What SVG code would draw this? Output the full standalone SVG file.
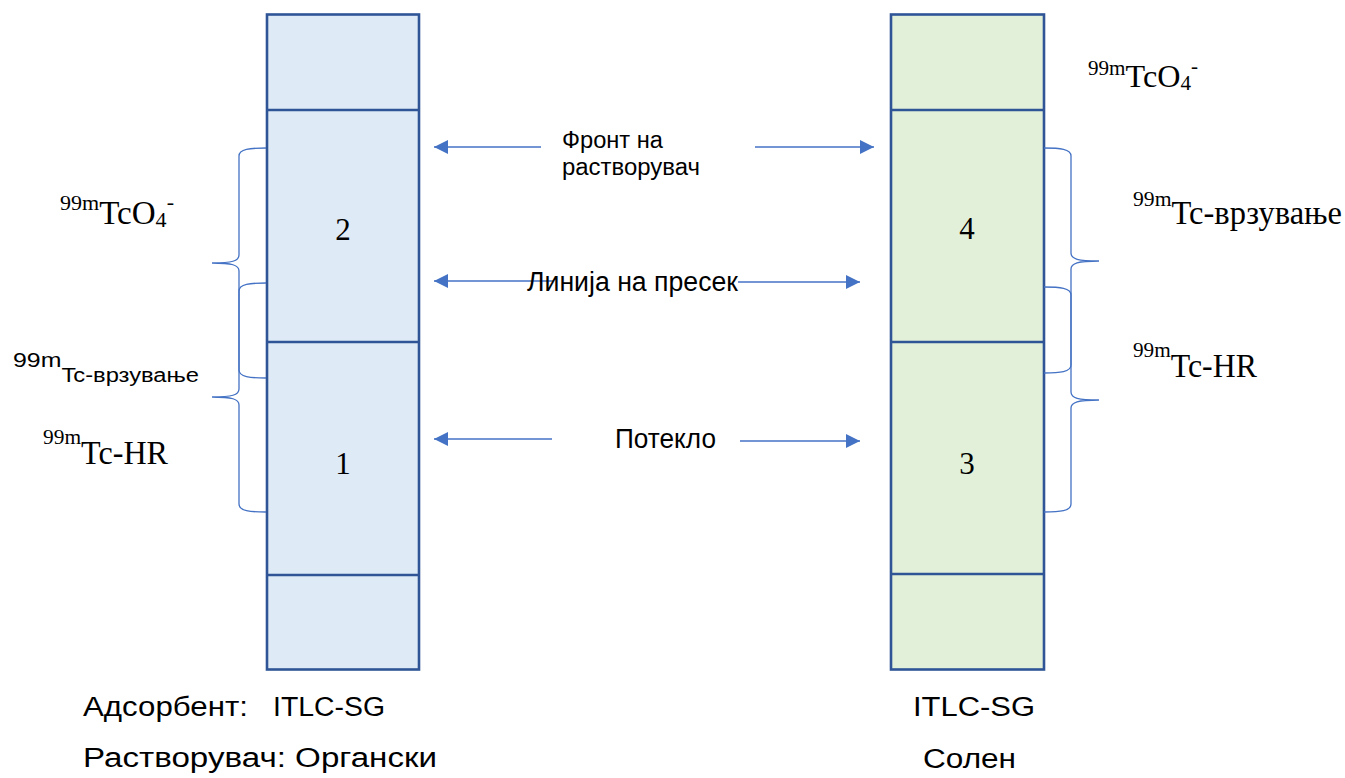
<svg xmlns="http://www.w3.org/2000/svg" width="1345" height="778" viewBox="0 0 1345 778">
  <defs>
    <marker id="head" markerUnits="userSpaceOnUse" markerWidth="16" markerHeight="16" refX="14" refY="7" orient="auto">
      <path d="M0,0 L14,7 L0,14 Z" fill="#4472C4"/>
    </marker>
    <style>
      .strip { stroke: #2F5597; stroke-width: 2.6; }
      .left { fill: #DEEBF7; }
      .right { fill: #E2F0D9; }
      .div { stroke: #2F5597; stroke-width: 2.6; }
      .arrow { stroke: #4472C4; stroke-width: 1.6; fill: none; marker-end: url(#head); }
      .brace { stroke: #4472C4; stroke-width: 1.3; fill: none; }
      .sans { font-family: "Liberation Sans", Arial, sans-serif; fill: #000; }
      .serif { font-family: "Liberation Serif", "Times New Roman", serif; fill: #000; }
    </style>
  </defs>
  <rect width="1345" height="778" fill="#FFFFFF"/>

  <!-- ITLC-SG strip, organic solvent -->
  <g id="strip-organic">
    <rect class="strip left" x="267" y="14.5" width="152" height="655"/>
    <line class="div" x1="267" y1="110" x2="419" y2="110"/>
    <line class="div" x1="267" y1="342" x2="419" y2="342"/>
    <line class="div" x1="267" y1="575" x2="419" y2="575"/>
    <text class="serif" x="343" y="240" font-size="31" text-anchor="middle">2</text>
    <text class="serif" x="343" y="474" font-size="31" text-anchor="middle">1</text>
  </g>

  <!-- ITLC-SG strip, saline -->
  <g id="strip-saline">
    <rect class="strip right" x="891" y="14.5" width="153" height="655"/>
    <line class="div" x1="891" y1="110" x2="1044" y2="110"/>
    <line class="div" x1="891" y1="342" x2="1044" y2="342"/>
    <line class="div" x1="891" y1="574" x2="1044" y2="574"/>
    <text class="serif" x="967" y="239" font-size="31" text-anchor="middle">4</text>
    <text class="serif" x="967" y="474" font-size="31" text-anchor="middle">3</text>
  </g>

  <!-- connectors: arrows and braces -->
  <g id="connectors">
    <line class="arrow" x1="541" y1="147" x2="434" y2="147"/>
    <line class="arrow" x1="755" y1="147" x2="874" y2="147"/>
    <line class="arrow" x1="553" y1="281" x2="434" y2="281"/>
    <line class="arrow" x1="738" y1="282" x2="860" y2="282"/>
    <line class="arrow" x1="552" y1="439" x2="434" y2="439"/>
    <line class="arrow" x1="740" y1="441" x2="860" y2="441"/>

    <path class="brace" d="M266,148 C250,148 239,149 239,156 L239,255 C239,261 232,263 212,263 C232,263 239,265 239,271 L239,370 C239,377 250,378 266,378"/>
    <path class="brace" d="M266,283 C250,283 239,284 239,291 L239,389 C239,395 232,397 212,397 C232,397 239,399 239,405 L239,504 C239,511 250,512 266,512"/>
    <path class="brace" d="M1044,148 C1060,148 1071,149 1071,156 L1071,253 C1071,259 1078,261 1099,261 C1078,261 1071,263 1071,269 L1071,365 C1071,372 1060,373 1044,373"/>
    <path class="brace" d="M1044,287 C1060,287 1071,288 1071,295 L1071,392 C1071,398 1078,400 1099,400 C1078,400 1071,402 1071,408 L1071,504 C1071,511 1060,512 1044,512"/>
  </g>

  <!-- level labels between strips -->
  <g id="label-front">
    <text class="sans" x="562" y="148" font-size="23" textLength="101" lengthAdjust="spacingAndGlyphs">Фронт на</text>
    <text class="sans" x="562" y="175" font-size="23" textLength="138" lengthAdjust="spacingAndGlyphs">растворувач</text>
  </g>
  <g id="label-cut">
    <text class="sans" x="527" y="291" font-size="27" textLength="211" lengthAdjust="spacingAndGlyphs">Линија на пресек</text>
  </g>
  <g id="label-origin">
    <text class="sans" x="615" y="448" font-size="27" textLength="101" lengthAdjust="spacingAndGlyphs">Потекло</text>
  </g>

  <!-- species, organic solvent -->
  <g id="species-organic">
    <text class="serif" x="60" y="224" font-size="33" textLength="114" lengthAdjust="spacingAndGlyphs"><tspan font-size="22" dy="-14">99m</tspan><tspan dy="14">TcO</tspan><tspan font-size="22" dy="3">4</tspan><tspan font-size="22" dy="-18">-</tspan></text>
    <text class="sans" x="13" y="367" font-size="21" textLength="186" lengthAdjust="spacingAndGlyphs">99m<tspan font-size="20" dy="15">Tc-врзување</tspan></text>
    <text class="serif" x="43" y="464" font-size="33" textLength="125" lengthAdjust="spacingAndGlyphs"><tspan font-size="22" dy="-20">99m</tspan><tspan dy="20">Tc-HR</tspan></text>
  </g>

  <!-- species, saline -->
  <g id="species-saline">
    <text class="serif" x="1088" y="87" font-size="32" textLength="110" lengthAdjust="spacingAndGlyphs"><tspan font-size="21" dy="-12">99m</tspan><tspan dy="12">TcO</tspan><tspan font-size="21" dy="3">4</tspan><tspan font-size="21" dy="-17">-</tspan></text>
    <text class="serif" x="1133" y="224" font-size="33" textLength="209" lengthAdjust="spacingAndGlyphs"><tspan font-size="22" dy="-18">99m</tspan><tspan dy="18">Tc-врзување</tspan></text>
    <text class="serif" x="1133" y="377" font-size="33" textLength="124" lengthAdjust="spacingAndGlyphs"><tspan font-size="22" dy="-20">99m</tspan><tspan dy="20">Tc-HR</tspan></text>
  </g>

  <!-- captions -->
  <g id="caption-organic">
    <text class="sans" x="83" y="716" font-size="27" textLength="165" lengthAdjust="spacingAndGlyphs">Адсорбент:</text>
    <text class="sans" x="273" y="716" font-size="27" textLength="112" lengthAdjust="spacingAndGlyphs">ITLC-SG</text>
    <text class="sans" x="83" y="767" font-size="27" textLength="354" lengthAdjust="spacingAndGlyphs">Растворувач: Органски</text>
  </g>
  <g id="caption-saline">
    <text class="sans" x="913" y="716" font-size="27" textLength="122" lengthAdjust="spacingAndGlyphs">ITLC-SG</text>
    <text class="sans" x="923" y="768" font-size="27" textLength="93" lengthAdjust="spacingAndGlyphs">Солен</text>
  </g>
</svg>
